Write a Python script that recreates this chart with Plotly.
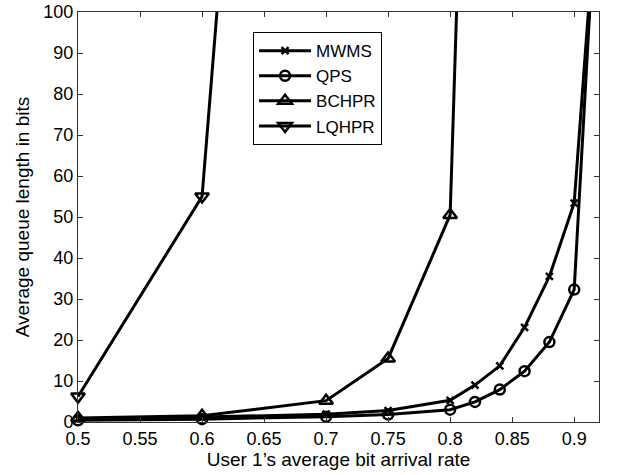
import plotly.graph_objects as go

x_mwms = [0.5, 0.6, 0.7, 0.75, 0.8, 0.82, 0.84, 0.86, 0.88, 0.9, 0.92]
y_mwms = [0.8, 1.2, 1.9, 2.8, 5.3, 9.0, 13.7, 23.1, 35.5, 53.4, 135]

x_qps = [0.5, 0.6, 0.7, 0.75, 0.8, 0.82, 0.84, 0.86, 0.88, 0.9, 0.92]
y_qps = [0.4, 0.7, 1.3, 1.8, 3.0, 4.9, 7.9, 12.4, 19.5, 32.3, 141]

x_bchpr = [0.5, 0.6, 0.7, 0.75, 0.8, 0.82]
y_bchpr = [1.0, 1.5, 5.2, 15.5, 50.5, 242]

x_lqhpr = [0.5, 0.6, 0.7]
y_lqhpr = [6.2, 55.0, 430]

x_ticks = [0.5, 0.55, 0.6, 0.65, 0.7, 0.75, 0.8, 0.85, 0.9]
x_tick_labels = ["0.5", "0.55", "0.6", "0.65", "0.7", "0.75", "0.8", "0.85", "0.9"]
y_ticks = [0, 10, 20, 30, 40, 50, 60, 70, 80, 90, 100]

FONT = "Liberation Sans, Arial, Helvetica, sans-serif"

series = [
    ("MWMS", x_mwms, y_mwms, "x-thin-open", 7),
    ("QPS", x_qps, y_qps, "circle-open", 10),
    ("BCHPR", x_bchpr, y_bchpr, "triangle-up-open", 12),
    ("LQHPR", x_lqhpr, y_lqhpr, "triangle-down-open", 12),
]

fig = go.Figure()
for name, xs, ys, sym, sz in series:
    fig.add_trace(go.Scatter(
        x=xs, y=ys, name=name, mode="lines+markers",
        line=dict(color="black", width=3),
        marker=dict(symbol=sym, size=sz, color="black", line=dict(width=2.5, color="black")),
        cliponaxis=False,
    ))

fig.update_layout(
    width=621, height=475,
    margin=dict(l=78, r=22, t=12, b=53, autoexpand=False),
    paper_bgcolor="white", plot_bgcolor="white",
    font=dict(family=FONT, size=18, color="black"),
    showlegend=True,
    legend=dict(
        x=0.336, y=0.951, xanchor="left", yanchor="top",
        bordercolor="black", borderwidth=1, bgcolor="white",
        font=dict(family=FONT, size=17, color="black"),
        itemwidth=52, tracegroupgap=0,
    ),
)
fig.update_xaxes(
    range=[0.5, 0.92], tickvals=x_ticks, ticktext=x_tick_labels,
    ticks="inside", ticklen=5, tickcolor="#333", showline=True, linecolor="#333",
    linewidth=1, mirror="ticks", showgrid=False, zeroline=False, automargin=False,
    ticklabeloverflow="allow",
    tickfont=dict(size=18),
    title=dict(text="User 1’s average bit arrival rate", font=dict(size=19), standoff=4),
)
fig.update_yaxes(
    range=[0, 100], tickvals=y_ticks,
    ticks="inside", ticklen=5, tickcolor="#333", showline=True, linecolor="#333",
    linewidth=1, mirror="ticks", showgrid=False, zeroline=False, automargin=False,
    ticklabeloverflow="allow",
    tickfont=dict(size=18),
    title=dict(text="Average queue length in bits", font=dict(size=19), standoff=8),
)

# remove the page's default 8px body margin so the figure sits at the window origin
fig.write_html("out.html", config={"displayModeBar": False},
               post_script="document.body.style.margin='0';")
